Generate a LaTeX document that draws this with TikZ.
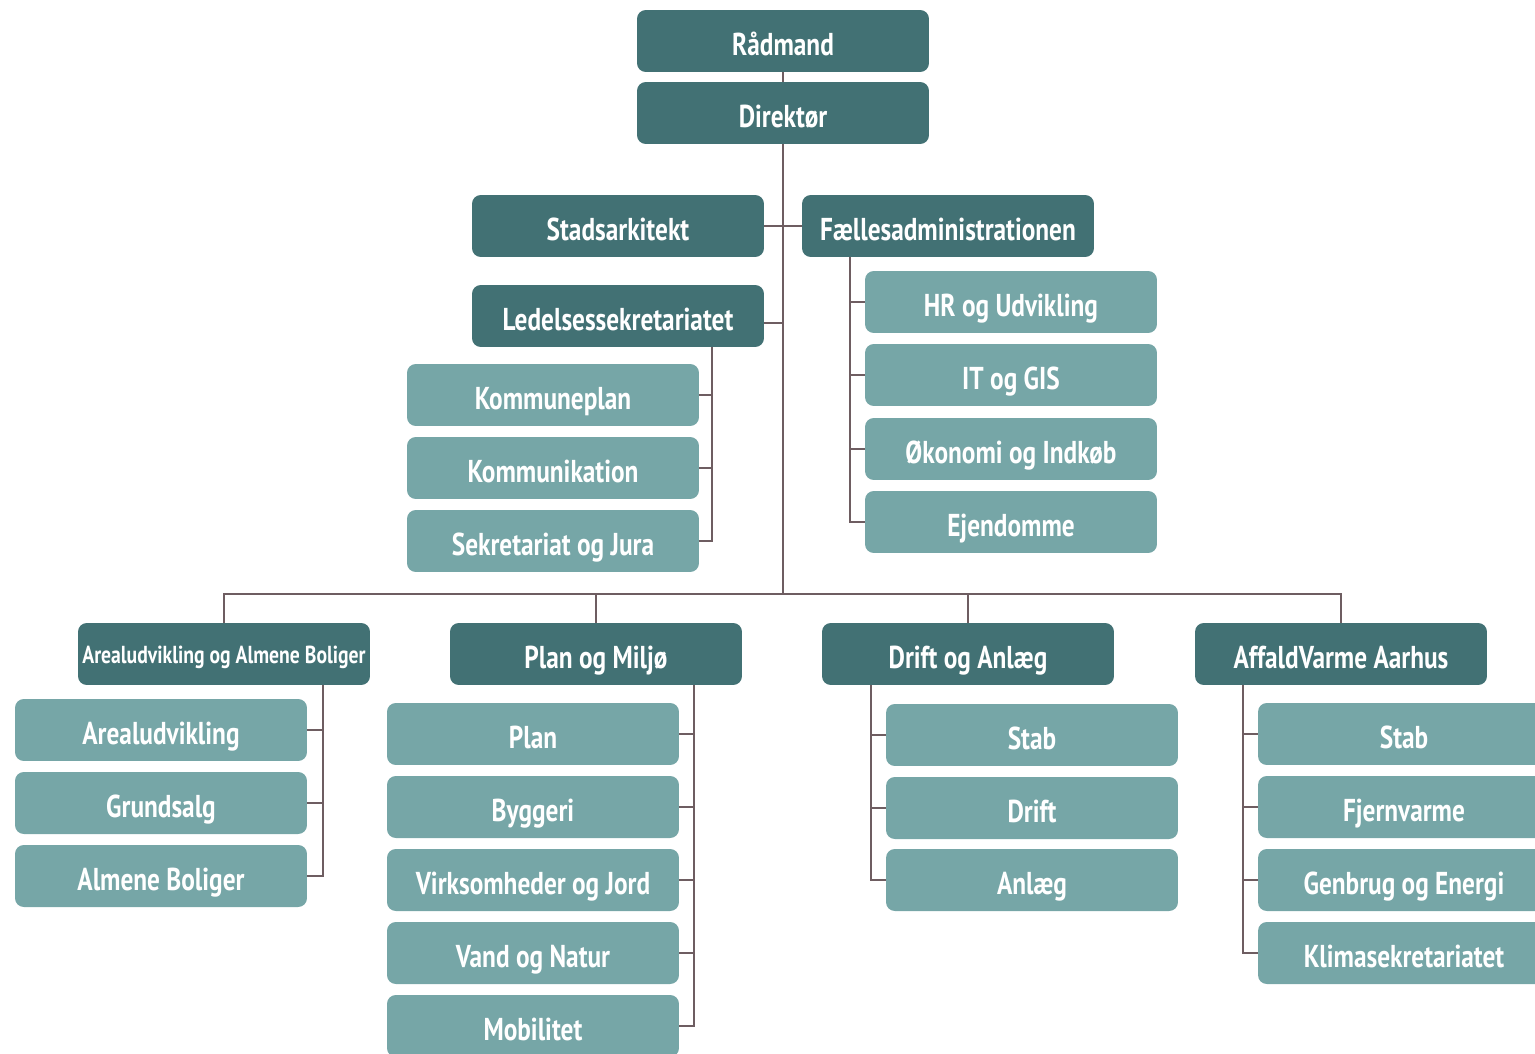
\documentclass[tikz,border=0pt]{standalone}
\usepackage{fontspec}
\setmainfont[FakeStretch=0.8]{PT Sans}
\definecolor{darkteal}{HTML}{427174}
\definecolor{lightteal}{HTML}{76A6A7}
\definecolor{linegray}{HTML}{6E5D61}
\begin{document}
\begin{tikzpicture}[x=0.02cm, y=-0.02cm,
                    boss/.style={rectangle, rounded corners=5pt, fill=darkteal, text=white,
                                 font=\bfseries\fontsize{18}{20}\selectfont,
                                 text height=18pt, text depth=1.8pt,
                                 minimum width=5.84cm, minimum height=1.24cm, inner sep=0pt},
                    unit/.style={boss, fill=lightteal},
                    link/.style={draw=linegray, line width=0.8pt}]
\clip (0,0) rectangle (1535,1054);

% top of the house
\node[boss] (raad) at (783,41) {Rådmand};
\node[boss] (dir) at (783,113) {Direktør};
\node[boss] (stads) at (618,226) {Stadsarkitekt};
\node[boss] (faelles) at (948,226) {Fællesadministrationen};
\node[boss] (ledelse) at (618,316) {Ledelsessekretariatet};

\node[unit] (kplan) at (553,395) {Kommuneplan};
\node[unit] (kommu) at (553,468) {Kommunikation};
\node[unit] (sekr) at (553,541) {Sekretariat og Jura};

\node[unit] (hr) at (1011,302) {HR og Udvikling};
\node[unit] (it) at (1011,375) {IT og GIS};
\node[unit] (oek) at (1011,449) {Økonomi og Indkøb};
\node[unit] (ejd) at (1011,522) {Ejendomme};

% the four departments
\node[boss, font=\bfseries\fontsize{14}{16}\selectfont, text height=12pt, text depth=1pt]
     (areal) at (224,654) {Arealudvikling og Almene Boliger};
\node[boss] (plan) at (596,654) {Plan og Miljø};
\node[boss] (drift) at (968,654) {Drift og Anlæg};
\node[boss] (affald) at (1341,654) {AffaldVarme Aarhus};

\node[unit] (arud) at (161,730) {Arealudvikling};
\node[unit] (grund) at (161,803) {Grundsalg};
\node[unit] (almene) at (161,876) {Almene Boliger};

\node[unit] (pplan) at (533,734) {Plan};
\node[unit] (byg) at (533,807) {Byggeri};
\node[unit] (virk) at (533,880) {Virksomheder og Jord};
\node[unit] (vand) at (533,953) {Vand og Natur};
\node[unit] (mobil) at (533,1026) {Mobilitet};

\node[unit] (dstab) at (1032,735) {Stab};
\node[unit] (ddrift) at (1032,808) {Drift};
\node[unit] (anlaeg) at (1032,880) {Anlæg};

\node[unit] (astab) at (1404,734) {Stab};
\node[unit] (fjern) at (1404,807) {Fjernvarme};
\node[unit] (genbrug) at (1404,880) {Genbrug og Energi};
\node[unit] (klima) at (1404,953) {Klimasekretariatet};

% connectors
\coordinate (bus) at (783,594);
\coordinate (lbar) at (712,0);
\coordinate (fbar) at (850,0);
\coordinate (abar) at (323,0);
\coordinate (pbar) at (694,0);
\coordinate (dbar) at (871,0);
\coordinate (vbar) at (1243,0);

\draw[link] (raad) -- (dir);
\draw[link] (dir) -- (bus);
\draw[link] (stads) -- (faelles);
\draw[link] ([yshift=-0.14cm]ledelse.east) -- ([yshift=-0.14cm]ledelse.east -| bus);
\draw[link] (areal.north) |- (bus) -| (affald.north);
\draw[link] (bus) -| (plan.north);
\draw[link] (bus) -| (drift.north);

\draw[link] (ledelse.south -| lbar) |- (sekr.east);
\foreach \u in {kplan,kommu}
  \draw[link] (\u.east) -- (\u.east -| lbar);
\draw[link] (faelles.south -| fbar) |- (ejd.west);
\foreach \u in {hr,it,oek}
  \draw[link] (\u.west) -- (\u.west -| fbar);

\draw[link] (areal.south -| abar) |- (almene.east);
\foreach \u in {arud,grund}
  \draw[link] (\u.east) -- (\u.east -| abar);
\draw[link] (plan.south -| pbar) |- (mobil.east);
\foreach \u in {pplan,byg,virk,vand}
  \draw[link] (\u.east) -- (\u.east -| pbar);
\draw[link] (drift.south -| dbar) |- (anlaeg.west);
\foreach \u in {dstab,ddrift}
  \draw[link] (\u.west) -- (\u.west -| dbar);
\draw[link] (affald.south -| vbar) |- (klima.west);
\foreach \u in {astab,fjern,genbrug}
  \draw[link] (\u.west) -- (\u.west -| vbar);
\end{tikzpicture}
\end{document}
